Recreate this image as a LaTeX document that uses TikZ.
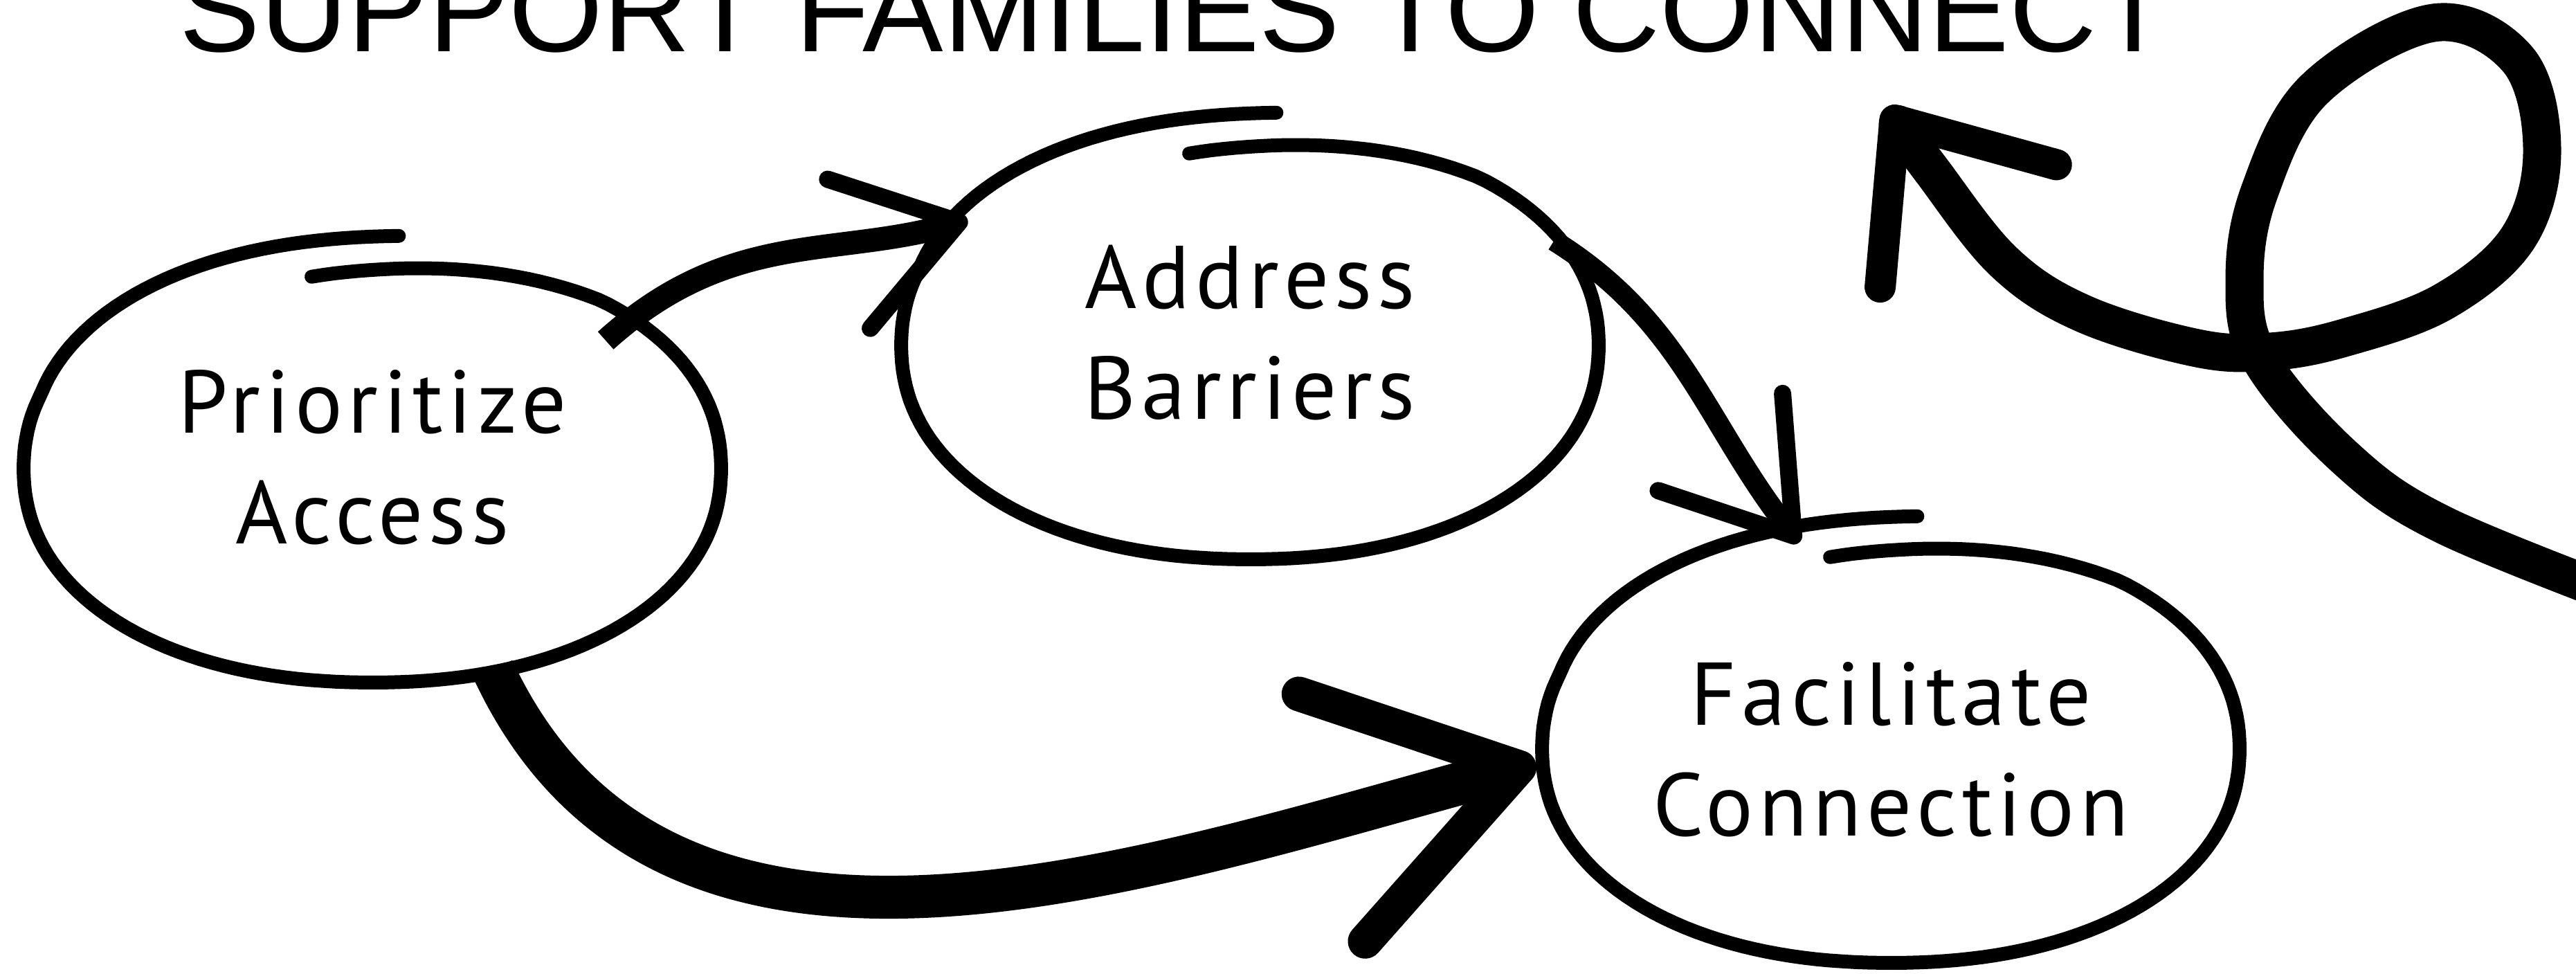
\documentclass[tikz,border=0pt]{standalone}
\usepackage{fontspec}
\usepackage{tikz}
\usetikzlibrary{positioning,arrows.meta,shapes.geometric}
\newfontfamily\titlefont{Liberation Sans}
\newfontfamily\stagefont[LetterSpace=6]{PT Sans}

\tikzset{
  stage/.style={ellipse, minimum width=10.08cm, minimum height=6.18cm, inner sep=0pt, outer sep=0pt,
    align=center, font=\stagefont\fontsize{36.6}{45.5}\selectfont},
  ring/.style={line width=0.2cm, line cap=round, line join=round},
  brush/.style={draw, line cap=butt, line join=round},
}

% hand drawn ring round a stage, a little spiral that overshoots at the top
\newcommand\sketchring[1]{%
  \draw[ring, shift={(#1.center)}] plot[domain=0:375, samples=180, variable=\t]
    ({5.04*sq(101-\t)*cos(101-\t)}, {3.09*sq(101-\t)*sin(101-\t)});
}

\begin{document}
\begin{tikzpicture}[declare function={
    rs(\a)=1-0.09*max(0,(\a-50)/51)+0.09*max(0,(-200-\a)/74);
    sq(\a)=rs(\a)/pow(pow(abs(cos(\a))+0.0001,2.15)+pow(abs(sin(\a))+0.0001,2.15),1/2.15);}]
  \useasboundingbox (0,0) rectangle (37.22,-14.06);

  \node[anchor=base west, font=\titlefont\fontsize{49.7}{60}\selectfont] (title) at (2.475,-0.75) {SUPPORT FAMILIES TO CONNECT};

  \node[stage, text depth=0.34cm] (pa) at (5.38,-6.77) {Prioritize\\Access};
  \node[stage, text depth=0.38cm, right=2.6cm of pa, yshift=1.78cm] (ab) {Address\\Barriers};
  \node[stage, text depth=-0.2cm, right=11.86cm of pa, yshift=-4.05cm] (fc) {Facilitate\\Connection};

  \foreach \n in {pa,ab,fc} {\sketchring{\n}}

  % brush arrows between the stages
  \draw[brush, line width=0.34cm, shorten <=-0.4cm,
    -{Straight Barb[length=1.66cm, width=2.24cm, line width=0.25cm, round]}]
    (pa.30) to[out=42, in=196] (ab.156);
  \draw[brush, line width=0.3cm,
    -{Straight Barb[length=1.72cm, width=2.28cm, line width=0.25cm, round]}]
    (ab.19) to[out=-32, in=128] (fc.114);
  \draw[brush, line width=0.62cm, shorten >=0.1cm,
    -{Straight Barb[length=2.8cm, width=3.7cm, line width=0.5cm, round]}]
    (pa.-59) to[out=-65, in=195] (fc.182);

  % the loop on the right
  \coordinate (loopin) at (38.2,-8.75);
  \coordinate (loopout) at (27.25,-1.55);
  \draw[brush, line width=0.55cm,
    -{Straight Barb[length=1.86cm, width=3.1cm, line width=0.45cm, round]}]
    plot[smooth, tension=0.6] coordinates {(loopin) (35.30,-7.58) (33.87,-6.60) (32.65,-5.17)
      (32.43,-4.02) (32.65,-2.76) (33.44,-1.29) (35.16,-0.33) (36.38,-0.86) (36.73,-2.18)
      (36.38,-3.44) (35.30,-4.36) (33.87,-4.88) (32.80,-5.08) (31.75,-5.03) (30.10,-4.53)
      (28.95,-3.78) (27.90,-2.45) (loopout)};
\end{tikzpicture}
\end{document}
